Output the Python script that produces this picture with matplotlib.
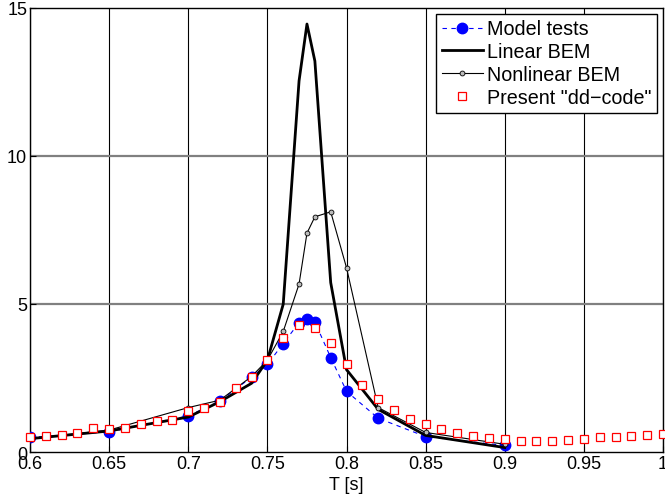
import matplotlib
matplotlib.use("Agg")
import matplotlib.pyplot as plt

# Model tests
T_MODEL = [0.6, 0.65, 0.7, 0.72, 0.74, 0.75, 0.76, 0.77, 0.775, 0.78, 0.79, 0.8, 0.82, 0.85, 0.9]
Y_MODEL = [0.49, 0.68, 1.22, 1.72, 2.53, 2.96, 3.66, 4.37, 4.5, 4.39, 3.19, 2.05, 1.14, 0.52, 0.22]

# Linear BEM
T_LIN = [0.6, 0.65, 0.7, 0.72, 0.74, 0.75, 0.76, 0.77, 0.775, 0.78, 0.79, 0.8, 0.82, 0.85, 0.9]
Y_LIN = [0.45, 0.71, 1.18, 1.7, 2.32, 3.1, 4.99, 12.53, 14.45, 13.2, 5.72, 2.78, 1.44, 0.56, 0.15]

# Nonlinear BEM
T_NL = [0.6, 0.65, 0.7, 0.72, 0.74, 0.75, 0.76, 0.77, 0.775, 0.78, 0.79, 0.8, 0.82, 0.85, 0.9]
Y_NL = [0.45, 0.74, 1.5, 1.75, 2.55, 3.1, 4.07, 5.67, 7.39, 7.94, 8.11, 6.22, 1.5, 0.66, 0.26]

# Present "dd-code"
T_DD = [0.6, 0.61, 0.62, 0.63, 0.64, 0.65, 0.66, 0.67, 0.68, 0.69,
        0.7, 0.71, 0.72, 0.73, 0.74, 0.75, 0.76, 0.77, 0.78, 0.79,
        0.8, 0.81, 0.82, 0.83, 0.84, 0.85, 0.86, 0.87, 0.88, 0.89,
        0.9, 0.91, 0.92, 0.93, 0.94, 0.95, 0.96, 0.97, 0.98, 0.99, 1.0]
Y_DD = [0.49, 0.54, 0.59, 0.64, 0.82, 0.77, 0.80, 0.95, 1.03, 1.09,
        1.37, 1.48, 1.68, 2.15, 2.53, 3.10, 3.85, 4.28, 4.20, 3.68,
        2.96, 2.26, 1.80, 1.43, 1.13, 0.94, 0.78, 0.64, 0.54, 0.47,
        0.43, 0.38, 0.36, 0.37, 0.40, 0.44, 0.52, 0.51, 0.54, 0.57, 0.61]

X_TICKS = [0.6, 0.65, 0.7, 0.75, 0.8, 0.85, 0.9, 0.95, 1.0]
X_TICKLABELS = ["0.6", "0.65", "0.7", "0.75", "0.8", "0.85", "0.9", "0.95", "1"]
Y_TICKS = [0, 5, 10, 15]


def main() -> None:
    plt.rcParams.update({"font.family": ["Liberation Sans", "DejaVu Sans"], "font.size": 13})
    fig = plt.figure(figsize=(6.65, 5.02), dpi=100)
    ax = fig.add_axes([0.0451, 0.0976, 0.952, 0.885])

    for x in X_TICKS:
        ax.axvline(x, color="black", linewidth=0.8, zorder=0)
    for y in Y_TICKS[1:-1]:
        ax.axhline(y, color="#808080", linewidth=1.6, zorder=0)

    ax.plot(T_MODEL, Y_MODEL, linestyle=(0, (4, 4)), color="blue", linewidth=0.8,
            marker="o", markersize=7.5, markerfacecolor="blue", markeredgecolor="blue",
            label="Model tests", zorder=3)
    ax.plot(T_LIN, Y_LIN, color="black", linewidth=2.0, label="Linear BEM", zorder=4)
    ax.plot(T_NL, Y_NL, color="black", linewidth=0.8, marker="o", markersize=3.5,
            markerfacecolor="#bbbbbb", markeredgecolor="black", markeredgewidth=0.6,
            label="Nonlinear BEM", zorder=4)
    ax.plot(T_DD, Y_DD, linestyle="none", marker="s", markersize=5.5,
            markerfacecolor="white", markeredgecolor="red", markeredgewidth=0.9,
            label='Present "dd\u2212code"', zorder=5, clip_on=False)

    ax.set_xlim(0.6, 1.0)
    ax.set_ylim(0, 15)
    ax.set_xticks(X_TICKS)
    ax.set_xticklabels(X_TICKLABELS)
    ax.set_yticks(Y_TICKS)
    ax.tick_params(direction="in", length=4, labelsize=13, pad=2)
    ax.set_xlabel("T [s]", labelpad=3, fontsize=13)
    for sp in ax.spines.values():
        sp.set_linewidth(1.0)

    leg = ax.legend(loc="upper right", bbox_to_anchor=(0.991, 0.987), fancybox=False,
                    edgecolor="black", framealpha=1, handlelength=2.1, handletextpad=0.2,
                    borderpad=0.3, labelspacing=0.2, borderaxespad=0.0, fontsize=14.2)
    leg.get_frame().set_linewidth(1.0)

    fig.savefig("out.png", dpi=100)


if __name__ == "__main__":
    main()
